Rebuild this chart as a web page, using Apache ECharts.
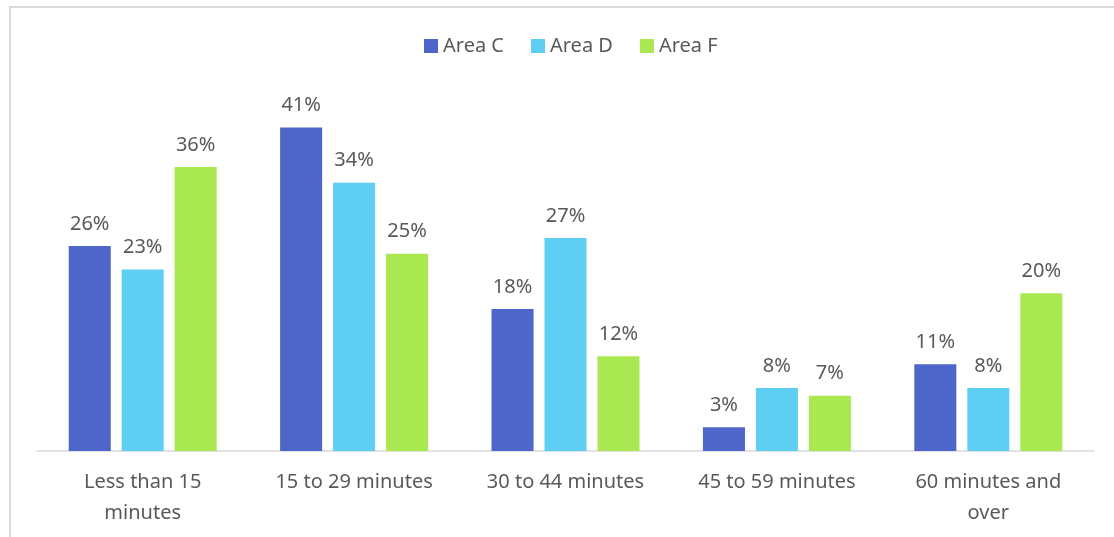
<!DOCTYPE html>
<html>
<head>
<meta charset="utf-8">
<script src="https://cdn.jsdelivr.net/npm/echarts@6/dist/echarts.min.js"></script>
<style>
    html, body { margin: 0; padding: 0; background: #fff; }
    #frame { position: absolute; left: 9px; top: 6px; width: 1200px; height: 600px; border: 2px solid #d9d9d9; box-sizing: border-box; }
    #chart { position: absolute; left: 0; top: 0; width: 1114px; height: 537px; }
</style>
</head>
<body>
<div id="frame"></div>
<div id="chart"></div>
<script>
const categories = ['Less than 15\nminutes', '15 to 29 minutes', '30 to 44 minutes', '45 to 59 minutes', '60 minutes and\nover'];
const areaC = [26, 41, 18, 3, 11];
const areaD = [23, 34, 27, 8, 8];
const areaF = [36, 25, 12, 7, 20];

const textColor = '#595959';
const fontFamily = '"Noto Sans", "Open Sans", sans-serif';

var myChart = echarts.init(document.getElementById('chart'));

function barSeries(name, data, color) {
    return {
        name: name,
        type: 'bar',
        data: data,
        barGap: '26%',
        barCategoryGap: '30%',
        itemStyle: { color: color },
        label: {
            show: true,
            position: 'top',
            distance: 12,
            formatter: '{c}%',
            color: textColor,
            fontSize: 20,
            fontFamily: fontFamily
        }
    };
}

myChart.setOption({
    animation: false,
    legend: {
        top: 31,
        left: 419,
        itemWidth: 14,
        itemHeight: 14,
        itemGap: 27,
        icon: 'rect',
        textStyle: {
            color: textColor,
            fontSize: 20,
            fontFamily: fontFamily
        },
        data: ['Area C', 'Area D', 'Area F']
    },
    grid: {
        left: 37,
        right: 20,
        top: 96,
        bottom: 86,
        containLabel: false
    },
    xAxis: {
        type: 'category',
        data: categories,
        axisLine: { lineStyle: { color: '#d9d9d9', width: 1.5 } },
        axisTick: { show: false },
        axisLabel: {
            color: textColor,
            fontSize: 20,
            fontFamily: fontFamily,
            margin: 16,
            lineHeight: 31,
            interval: 0
        }
    },
    yAxis: {
        type: 'value',
        min: 0,
        max: 45,
        show: false
    },
    series: [
        barSeries('Area C', areaC, '#4e66c9'),
        barSeries('Area D', areaD, '#5ecef3'),
        barSeries('Area F', areaF, '#a9e851')
    ]
});
</script>
</body>
</html>
